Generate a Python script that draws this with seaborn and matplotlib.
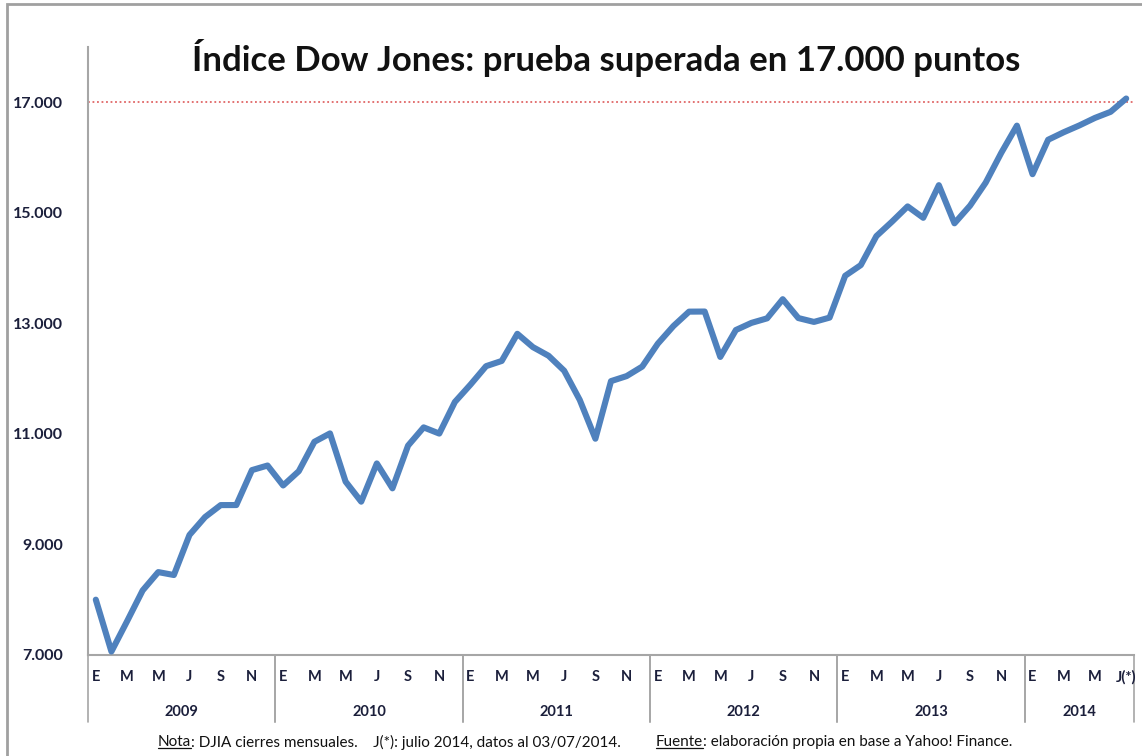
import pandas as pd
import matplotlib.pyplot as plt
import seaborn as sns
from matplotlib.patches import Rectangle

# DJIA monthly closes, Jan 2009 - Jul 2014 (Jul 2014 = data at 03/07/2014)
years = [2009, 2010, 2011, 2012, 2013, 2014]
closes_2009 = [8001, 7063, 7609, 8168, 8500, 8447, 9172, 9496, 9712, 9713, 10345, 10428]
closes_2010 = [10067, 10325, 10857, 11009, 10137, 9774, 10466, 10015, 10788, 11118, 11006, 11578]
closes_2011 = [11892, 12226, 12320, 12811, 12570, 12414, 12143, 11614, 10913, 11955, 12046, 12218]
closes_2012 = [12633, 12952, 13212, 13214, 12393, 12880, 13009, 13091, 13437, 13096, 13026, 13104]
closes_2013 = [13861, 14054, 14579, 14840, 15116, 14910, 15500, 14810, 15130, 15546, 16086, 16577]
closes_2014 = [15699, 16322, 16458, 16581, 16717, 16827, 17068]
month_labels = ["E", "M", "M", "J", "S", "N"]
last_label = "J(*)"
y_ticks = [7000, 9000, 11000, 13000, 15000, 17000]
threshold = 17000

values = closes_2009 + closes_2010 + closes_2011 + closes_2012 + closes_2013 + closes_2014
df = pd.DataFrame({"pos": [i + 0.5 for i in range(len(values))], "close": values})
n = len(values)

sns.set_style("white")
plt.rcParams["font.family"] = ["Lato", "DejaVu Sans"]

W, H = 1142, 756
fig = plt.figure(figsize=(W / 100, H / 100), dpi=100)
ax = fig.add_axes([88 / W, 1 - 655 / H, (1134 - 88) / W, (655 - 47) / H])

sns.lineplot(data=df, x="pos", y="close", ax=ax, color="#4F81BD", linewidth=4.4,
             solid_capstyle="round", solid_joinstyle="round", zorder=3)
ax.axhline(threshold, color="#E06666", linestyle=(0, (1, 1.5)), linewidth=1.3, zorder=2)

ax.set_xlim(0, n)
ax.set_ylim(7000, 18000)
ax.set_xlabel("")
ax.set_ylabel("")

for side in ["top", "right"]:
    ax.spines[side].set_visible(False)
for side in ["left", "bottom"]:
    ax.spines[side].set_color("#A6A6A6")
    ax.spines[side].set_linewidth(1.5)

label_color = "#1B1F3B"
ax.set_yticks(y_ticks)
ax.set_yticklabels([f"{v:,}".replace(",", ".") for v in y_ticks],
                   fontweight="bold", fontsize=11.5, color=label_color)
ax.tick_params(axis="y", length=6, width=1.2, color="#A6A6A6", pad=12)

# month boundary ticks, no tick labels (labels drawn below)
ax.set_xticks(range(n + 1))
ax.tick_params(axis="x", which="major", length=26, width=1.2, color="#A6A6A6",
               direction="out", labelbottom=False)

# month labels (every other month); last month of the series gets J(*)
xt = ax.get_xaxis_transform()
for yi, yr in enumerate(years):
    start = yi * 12
    nmonths = 12 if yr != 2014 else 7
    for k, lab in enumerate(month_labels):
        m = 2 * k
        if m >= nmonths:
            break
        if start + m == n - 1:
            lab = last_label
        ax.text(start + m + 0.5, -0.037, lab, transform=xt, ha="center", va="center",
                fontsize=10.5, fontweight="bold", color=label_color)
    end = start + nmonths
    ax.text((start + end) / 2, -0.094, str(yr), transform=xt, ha="center", va="center",
            fontsize=10.5, fontweight="bold", color=label_color)
    for xb in (start, end):
        ax.plot([xb, xb], [0, -0.11], transform=xt, color="#A6A6A6", lw=1.2, clip_on=False)

fig.text(606 / W, 1 - 58 / H, "Índice Dow Jones: prueba superada en 17.000 puntos",
         ha="center", va="center", fontsize=25, fontweight="bold", color="#111111")

# chart frame (only left and top visible in the crop)
fig.patches.append(Rectangle((7 / W, -0.1), 1.2, 1 - 4 / H + 0.1, transform=fig.transFigure,
                             fill=False, edgecolor="#A0A0A0", linewidth=2))

# footnote with underlined keywords
pieces = [("Nota", True), (": DJIA cierres mensuales.    J(*): julio 2014, datos al 03/07/2014.         ", False),
          ("Fuente", True), (": elaboración propia en base a Yahoo! Finance.", False)]
fig.canvas.draw()
renderer = fig.canvas.get_renderer()
texts = []
for s, ul in pieces:
    t = fig.text(0, 1 - 742 / H, s, ha="left", va="center", fontsize=11, color="#111111")
    texts.append((t, ul))
widths = [t.get_window_extent(renderer).width for t, _ in texts]
x = 585 - sum(widths) / 2
for (t, ul), w in zip(texts, widths):
    t.set_x(x / W)
    if ul:
        bb = t.get_window_extent(renderer)
        fig.add_artist(plt.Line2D([x / W, (x + w) / W], [(bb.y0 + 1) / H] * 2,
                                  transform=fig.transFigure, color="#111111", lw=0.9))
    x += w

fig.savefig("out.png", dpi=100)
